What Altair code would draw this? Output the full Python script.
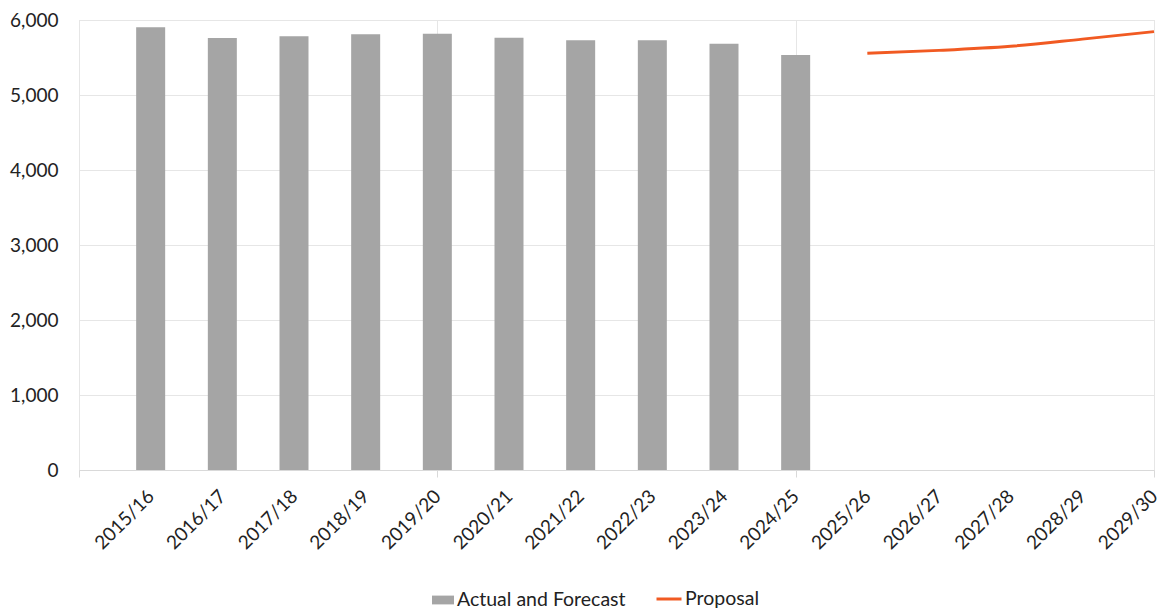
import altair as alt
import pandas as pd

categories = ["2015/16", "2016/17", "2017/18", "2018/19", "2019/20", "2020/21",
              "2021/22", "2022/23", "2023/24", "2024/25", "2025/26", "2026/27",
              "2027/28", "2028/29", "2029/30"]
bar_years = categories[:10]
bar_values = [5903, 5760, 5783, 5809, 5818, 5764, 5729, 5729, 5684, 5534]
line_years = categories[10:]
line_values = [5558, 5595, 5650, 5745, 5845]

pos = {c: i + 1 for i, c in enumerate(categories)}
bars = pd.DataFrame({"year": bar_years, "idx": [pos[c] for c in bar_years],
                     "value": bar_values, "series": "Actual and Forecast"})
line = pd.DataFrame({"year": line_years, "idx": [pos[c] for c in line_years],
                     "value": line_values, "series": "Proposal"})

FONT = "Lato"
label_arr = "[''," + ",".join("'%s'" % c for c in categories) + "]"

x_scale = alt.Scale(domain=[0, 15], nice=False, zero=False, padding=0)
y_scale = alt.Scale(domain=[0, 6000], nice=False)

x_axis = alt.Axis(
    title=None,
    values=list(range(0, 16)),
    labelExpr=label_arr + "[datum.value]",
    labelAngle=-45, labelAlign="right", labelBaseline="middle",
    labelFontSize=19, labelFont=FONT, labelColor="#222222",
    labelPadding=16, tickSize=7,
    tickColor="#d9d9d9",
    tickOpacity={"condition": {"test": "datum.value % 5 == 0", "value": 1}, "value": 0},
    grid=True, gridColor="#e6e6e6",
    gridOpacity={"condition": {"test": "datum.value % 5 == 0", "value": 1}, "value": 0},
    domainColor="#d9d9d9", labelOverlap=False, labelFlush=False,
)
y_axis = alt.Axis(
    title=None, values=[0, 1000, 2000, 3000, 4000, 5000, 6000], format=",d",
    ticks=False, domain=False, labelPadding=21, labelFontSize=19, labelFont=FONT,
    labelColor="#222222", gridColor="#e6e6e6",
)

bar_layer = alt.Chart(bars).mark_bar(size=29).encode(
    x=alt.X("idx:Q", scale=x_scale, axis=x_axis),
    y=alt.Y("value:Q", scale=y_scale, axis=y_axis),
    fill=alt.Fill("series:N", scale=alt.Scale(domain=["Actual and Forecast"], range=["#A5A5A5"]),
                  legend=alt.Legend(title=None, orient="none", legendX=353, legendY=569,
                                    symbolType="M-1,-0.4L1,-0.4L1,0.4L-1,0.4Z",
                                    symbolSize=484, symbolStrokeWidth=0,
                                    labelFontSize=19.5, labelFont=FONT, labelColor="#222222",
                                    labelOffset=3, labelLimit=400)),
)

line_layer = alt.Chart(line).mark_line(strokeWidth=3, interpolate="monotone").encode(
    x=alt.X("idx:Q", scale=x_scale),
    y=alt.Y("value:Q", scale=y_scale),
    stroke=alt.Stroke("series:N", scale=alt.Scale(domain=["Proposal"], range=["#F15A22"]),
                      legend=alt.Legend(title=None, orient="none", legendX=576, legendY=565,
                                        symbolType="stroke", symbolSize=625,
                                        symbolStrokeWidth=3,
                                        labelFontSize=19.5, labelFont=FONT, labelColor="#222222",
                                        labelOffset=2, labelLimit=400)),
)

chart = alt.layer(bar_layer, line_layer).properties(
    width=1075, height=450,
    autosize=alt.AutoSizeParams(type="none"),
    padding={"left": 79, "top": 20, "right": 7, "bottom": 140},
).configure_view(stroke=None).configure(background="white")

chart.save("out.html", embed_options={"renderer": "svg", "actions": False})
